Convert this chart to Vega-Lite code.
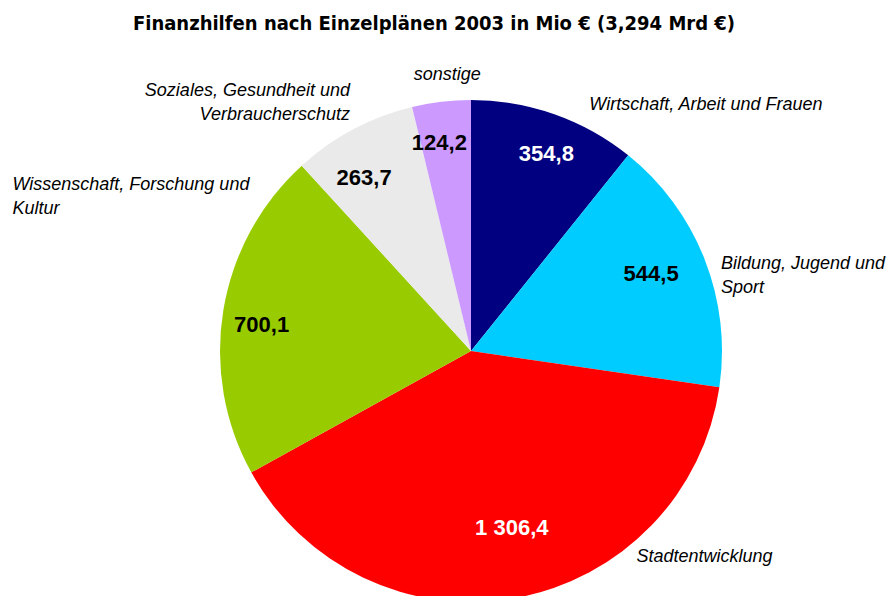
{
  "$schema": "https://vega.github.io/schema/vega-lite/v6.json",
  "width": 844,
  "height": 490,
  "autosize": {"type": "none"},
  "padding": {"left": 49, "top": 106, "right": 0, "bottom": 0},
  "background": "white",
  "config": {"view": {"stroke": null}},
  "title": {
    "text": "Finanzhilfen nach Einzelplänen 2003 in Mio € (3,294 Mrd €)",
    "font": "DejaVu Sans Condensed, Liberation Sans",
    "fontSize": 20,
    "fontWeight": "bold",
    "color": "#000000",
    "anchor": "middle",
    "frame": "group",
    "baseline": "alphabetic",
    "offset": -90,
    "dx": -37
  },
  "data": {
    "values": [
      {"idx": 1, "category": "Wirtschaft, Arbeit und Frauen", "value": 354.8, "label": "354,8"},
      {"idx": 2, "category": "Bildung, Jugend und\nSport", "value": 544.5, "label": "544,5"},
      {"idx": 3, "category": "Stadtentwicklung", "value": 1306.4, "label": "1 306,4"},
      {"idx": 4, "category": "Wissenschaft, Forschung und\nKultur", "value": 700.1, "label": "700,1"},
      {"idx": 5, "category": "Soziales, Gesundheit und\nVerbraucherschutz", "value": 263.7, "label": "263,7"},
      {"idx": 6, "category": "sonstige", "value": 124.2, "label": "124,2"}
    ]
  },
  "encoding": {
    "theta": {"field": "value", "type": "quantitative", "stack": true},
    "order": {"field": "idx", "type": "quantitative"}
  },
  "layer": [
    {
      "mark": {"type": "arc", "outerRadius": 251},
      "encoding": {
        "color": {
          "field": "idx",
          "type": "nominal",
          "scale": {"domain": [1, 2, 3, 4, 5, 6], "range": ["#000080", "#00CCFF", "#FF0000", "#99CC00", "#EAEAEA", "#CC99FF"]},
          "legend": null
        }
      }
    },
    {
      "mark": {"type": "text", "radius": 200, "dx": 9, "dy": -8, "font": "Liberation Sans", "fontSize": 22, "fontWeight": "bold", "color": "white", "align": "center", "baseline": "middle"},
      "encoding": {"text": {"condition": {"test": "datum.idx == 1", "field": "label"}, "value": ""}}
    },
    {
      "mark": {"type": "text", "radius": 200, "dx": -6, "dy": -4, "font": "Liberation Sans", "fontSize": 22, "fontWeight": "bold", "color": "black", "align": "center", "baseline": "middle"},
      "encoding": {"text": {"condition": {"test": "datum.idx == 2", "field": "label"}, "value": ""}}
    },
    {
      "mark": {"type": "text", "radius": 200, "dx": 5, "dy": -20, "font": "Liberation Sans", "fontSize": 22, "fontWeight": "bold", "color": "white", "align": "center", "baseline": "middle"},
      "encoding": {"text": {"condition": {"test": "datum.idx == 3", "field": "label"}, "value": ""}}
    },
    {
      "mark": {"type": "text", "radius": 200, "dx": -12, "dy": 6, "font": "Liberation Sans", "fontSize": 22, "fontWeight": "bold", "color": "black", "align": "center", "baseline": "middle"},
      "encoding": {"text": {"condition": {"test": "datum.idx == 4", "field": "label"}, "value": ""}}
    },
    {
      "mark": {"type": "text", "radius": 200, "dx": -13, "dy": 4, "font": "Liberation Sans", "fontSize": 22, "fontWeight": "bold", "color": "black", "align": "center", "baseline": "middle"},
      "encoding": {"text": {"condition": {"test": "datum.idx == 5", "field": "label"}, "value": ""}}
    },
    {
      "mark": {"type": "text", "radius": 200, "dx": -8, "dy": -9, "font": "Liberation Sans", "fontSize": 22, "fontWeight": "bold", "color": "black", "align": "center", "baseline": "middle"},
      "encoding": {"text": {"condition": {"test": "datum.idx == 6", "field": "label"}, "value": ""}}
    },
    {
      "mark": {"type": "text", "radius": 260, "dx": 32, "dy": -1, "font": "Liberation Sans", "fontSize": 18, "fontStyle": "italic", "color": "black", "align": "left", "baseline": "middle", "lineBreak": "\n", "lineHeight": 24},
      "encoding": {"text": {"condition": {"test": "datum.idx == 1", "field": "category"}, "value": ""}}
    },
    {
      "mark": {"type": "text", "radius": 260, "dx": 8, "dy": 8, "font": "Liberation Sans", "fontSize": 18, "fontStyle": "italic", "color": "black", "align": "left", "baseline": "middle", "lineBreak": "\n", "lineHeight": 24},
      "encoding": {"text": {"condition": {"test": "datum.idx == 2", "field": "category"}, "value": ""}}
    },
    {
      "mark": {"type": "text", "radius": 260, "dx": 119, "dy": -50, "font": "Liberation Sans", "fontSize": 18, "fontStyle": "italic", "color": "black", "align": "left", "baseline": "middle", "lineBreak": "\n", "lineHeight": 24},
      "encoding": {"text": {"condition": {"test": "datum.idx == 3", "field": "category"}, "value": ""}}
    },
    {
      "mark": {"type": "text", "radius": 260, "dx": -202, "dy": -124, "font": "Liberation Sans", "fontSize": 18, "fontStyle": "italic", "color": "black", "align": "left", "baseline": "middle", "lineBreak": "\n", "lineHeight": 24},
      "encoding": {"text": {"condition": {"test": "datum.idx == 4", "field": "category"}, "value": ""}}
    },
    {
      "mark": {"type": "text", "radius": 260, "dx": 1, "dy": -30, "font": "Liberation Sans", "fontSize": 18, "fontStyle": "italic", "color": "black", "align": "right", "baseline": "middle", "lineBreak": "\n", "lineHeight": 24},
      "encoding": {"text": {"condition": {"test": "datum.idx == 5", "field": "category"}, "value": ""}}
    },
    {
      "mark": {"type": "text", "radius": 260, "dx": 7, "dy": -18, "font": "Liberation Sans", "fontSize": 18, "fontStyle": "italic", "color": "black", "align": "center", "baseline": "middle", "lineBreak": "\n", "lineHeight": 24},
      "encoding": {"text": {"condition": {"test": "datum.idx == 6", "field": "category"}, "value": ""}}
    }
  ]
}
